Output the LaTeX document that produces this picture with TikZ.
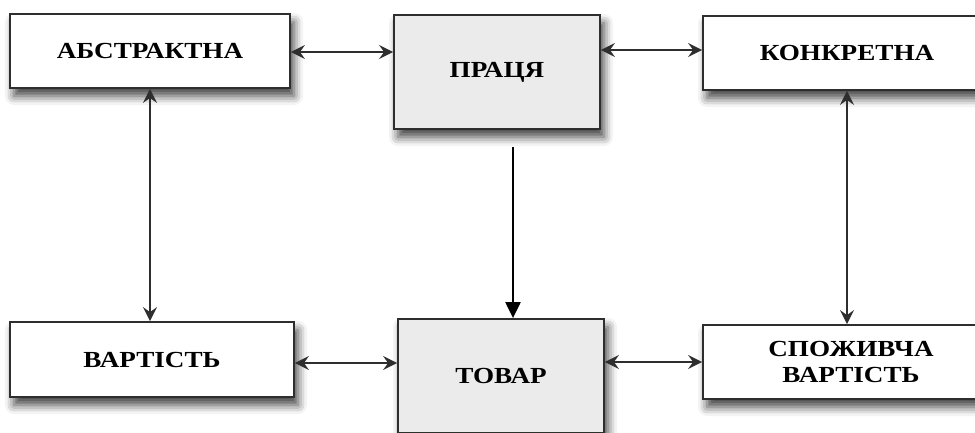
\documentclass[tikz,border=0pt]{standalone}
\usepackage{fontspec}
\newfontfamily\lbl{Liberation Serif}[FakeStretch=1.18]
\usetikzlibrary{arrows.meta,shadows.blur}
\definecolor{boxgray}{HTML}{EBEBEB}
\definecolor{edge}{HTML}{2E2E2E}
\tikzset{
  box/.style={draw=edge, line width=1.8pt, fill=white, rectangle, align=center,
    font=\lbl\bfseries\fontsize{23}{26}\selectfont, text=black,
    blur shadow={shadow xshift=4pt, shadow yshift=-8pt, shadow blur radius=9pt, shadow opacity=75}},
  graybox/.style={box, fill=boxgray},
  dbl/.style={draw=edge, line width=1.9pt, {Stealth[length=14pt,width=14pt,inset=5pt]}-{Stealth[length=14pt,width=14pt,inset=5pt]}},
  mid/.style={draw=black, line width=2.2pt, -{Triangle[length=16pt,width=15pt]}}
}
\begin{document}
\begin{tikzpicture}[x=1pt,y=-1pt]
\useasboundingbox (0,0) rectangle (975,432);
\node[box, minimum width=280pt, minimum height=74pt] (abs) at (150,51) {АБСТРАКТНА};
\node[graybox, minimum width=206pt, minimum height=114pt] (prac) at (497,72) {ПРАЦЯ};
\node[box, minimum width=288pt, minimum height=74pt] (konk) at (847,53) {КОНКРЕТНА};
\node[box, minimum width=284pt, minimum height=75pt] (var) at (152,359.5) {ВАРТІСТЬ};
\node[graybox, minimum width=206pt, minimum height=114pt] (tov) at (501,376) {ТОВАР};
\node[box, minimum width=296pt, minimum height=74pt] (spoz) at (851,362) {СПОЖИВЧА\\ВАРТІСТЬ};
\coordinate (mstart) at (513,147);
\draw[dbl] (abs.east |- 0,52) -- (prac.west |- 0,52);
\draw[dbl] (prac.east |- 0,50) -- (konk.west |- 0,50);
\draw[dbl] (abs.south) -- (abs.south |- var.north);
\draw[dbl] (konk.south) -- (konk.south |- spoz.north);
\draw[dbl] (var.east |- 0,363) -- (tov.west |- 0,363);
\draw[dbl] (tov.east |- 0,362) -- (spoz.west |- 0,362);
\draw[mid] (mstart) -- (mstart |- tov.north);
\end{tikzpicture}
\end{document}
